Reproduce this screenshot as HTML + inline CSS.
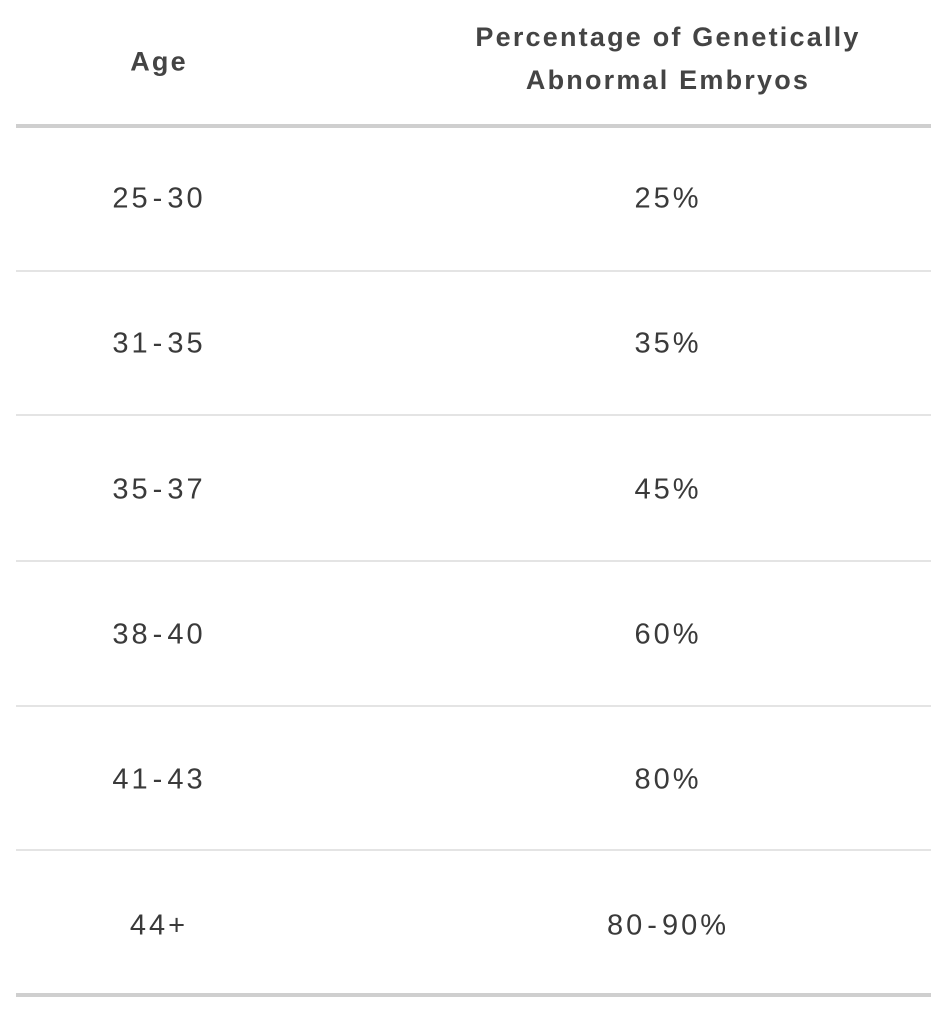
<!DOCTYPE html>
<html><head><style>
body{margin:0;width:945px;height:1024px;background:#fff;position:relative;font-family:"Liberation Sans",sans-serif;color:#3a3a3a;overflow:hidden}
.t{position:absolute;transform:translate(-50%,-50%);white-space:nowrap;font-size:29px;letter-spacing:3px}
.t i{font-style:normal;margin:0 2px}
.h{font-size:27px;font-weight:bold;color:#444;text-align:center;line-height:43px;letter-spacing:2.2px}
.l{position:absolute;left:16px;width:915px}
.thick{height:4px;background:#cfcfcf}
.thin{height:2px;background:#e4e4e4}
</style></head><body>
<div class="t h" style="left:159px;top:62px">Age</div>
<div class="t h" style="left:668px;top:59px">Percentage of Genetically<br>Abnormal Embryos</div>
<div class="l thick" style="top:124px"></div>
<div class="t" style="left:159px;top:199px">25<i>-</i>30</div><div class="t" style="left:668px;top:199px">25%</div>
<div class="l thin" style="top:270px"></div>
<div class="t" style="left:159px;top:344px">31<i>-</i>35</div><div class="t" style="left:668px;top:344px">35%</div>
<div class="l thin" style="top:414px"></div>
<div class="t" style="left:159px;top:490px">35<i>-</i>37</div><div class="t" style="left:668px;top:490px">45%</div>
<div class="l thin" style="top:560px"></div>
<div class="t" style="left:159px;top:635px">38<i>-</i>40</div><div class="t" style="left:668px;top:635px">60%</div>
<div class="l thin" style="top:705px"></div>
<div class="t" style="left:159px;top:780px">41<i>-</i>43</div><div class="t" style="left:668px;top:780px">80%</div>
<div class="l thin" style="top:849px"></div>
<div class="t" style="left:159px;top:926px">44+</div><div class="t" style="left:668px;top:926px">80<i>-</i>90%</div>
<div class="l thick" style="top:993px"></div>
</body></html>
